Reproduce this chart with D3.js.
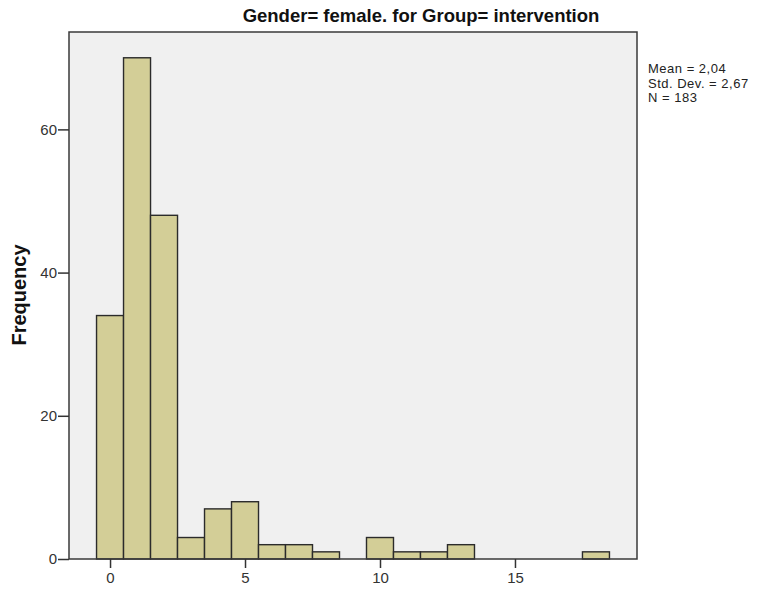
<!DOCTYPE html>
<html>
<head>
<meta charset="utf-8">
<script src="https://cdn.jsdelivr.net/npm/d3@7"></script>
<style>
  html, body { margin: 0; padding: 0; background: #ffffff; }
  svg { display: block; font-family: "Liberation Sans", Arial, sans-serif; }
</style>
</head>
<body>
<svg id="chart" width="757" height="594"></svg>
<script>
// Histogram bins (width 1, centred on each integer value) and their counts
const binCenters = [0, 1, 2, 3, 4, 5, 6, 7, 8, 9, 10, 11, 12, 13, 14, 15, 16, 17, 18];
const counts     = [34, 70, 48, 3, 7, 8, 2, 2, 1, 0, 3, 1, 1, 2, 0, 0, 0, 0, 1];
const xTicks = [0, 5, 10, 15];
const yTicks = [0, 20, 40, 60];
const titleText = "Gender= female. for Group= intervention";
const statsLines = ["Mean = 2,04", "Std. Dev. = 2,67", "N = 183"];
const yLabel = "Frequency";

const svg = d3.select("#chart");
const frame = { left: 69, top: 32, right: 637, bottom: 559 };

const x = d3.scaleLinear().domain([-1.52, 19.52]).range([frame.left, frame.right]);
const y = d3.scaleLinear().domain([0, 73.6]).range([frame.bottom, frame.top]);

// Plot area background
svg.append("rect")
  .attr("x", frame.left).attr("y", frame.top)
  .attr("width", frame.right - frame.left).attr("height", frame.bottom - frame.top)
  .attr("fill", "#f0f0f0");

// Bars
const bins = binCenters.map((c, i) => ({ c, n: counts[i] })).filter(d => d.n > 0);
svg.append("g").selectAll("rect").data(bins).join("rect")
  .attr("x", d => x(d.c - 0.5))
  .attr("y", d => y(d.n))
  .attr("width", d => x(d.c + 0.5) - x(d.c - 0.5))
  .attr("height", d => y(0) - y(d.n))
  .attr("fill", "#d3ce97")
  .attr("stroke", "#2b2b2b")
  .attr("stroke-width", 1.4);

// Frame border
svg.append("rect")
  .attr("x", frame.left).attr("y", frame.top)
  .attr("width", frame.right - frame.left).attr("height", frame.bottom - frame.top)
  .attr("fill", "none").attr("stroke", "#3a3a3a").attr("stroke-width", 1.5);

// Y axis
const yAxis = svg.append("g")
  .attr("transform", `translate(${frame.left},0)`)
  .call(d3.axisLeft(y).tickValues(yTicks).tickSize(11).tickPadding(1).tickFormat(d3.format("d")));
yAxis.select(".domain").remove();
yAxis.selectAll(".tick line").attr("stroke", "#333").attr("stroke-width", 1.5);
yAxis.selectAll(".tick text").attr("font-size", 15).attr("fill", "#333")
  .attr("font-family", "'Liberation Sans', Arial, sans-serif");

// X axis
const xAxis = svg.append("g")
  .attr("transform", `translate(0,${frame.bottom})`)
  .call(d3.axisBottom(x).tickValues(xTicks).tickSize(9).tickPadding(4).tickFormat(d3.format("d")));
xAxis.select(".domain").remove();
xAxis.selectAll(".tick line").attr("stroke", "#333").attr("stroke-width", 1.5);
xAxis.selectAll(".tick text").attr("font-size", 15).attr("fill", "#333")
  .attr("font-family", "'Liberation Sans', Arial, sans-serif");

// Title
svg.append("text")
  .attr("x", 421).attr("y", 22)
  .attr("text-anchor", "middle")
  .attr("font-size", 18.5).attr("font-weight", "bold").attr("fill", "#111")
  .text(titleText);

// Y label
svg.append("text")
  .attr("transform", "translate(26,295) rotate(-90)")
  .attr("text-anchor", "middle")
  .attr("font-size", 20).attr("font-weight", "bold").attr("fill", "#111")
  .text(yLabel);

// Summary statistics
svg.append("g").selectAll("text").data(statsLines).join("text")
  .attr("x", 648)
  .attr("y", (d, i) => 73 + i * 14.5)
  .attr("font-size", 13).attr("letter-spacing", 0.5).attr("fill", "#222")
  .text(d => d);
</script>
</body>
</html>
